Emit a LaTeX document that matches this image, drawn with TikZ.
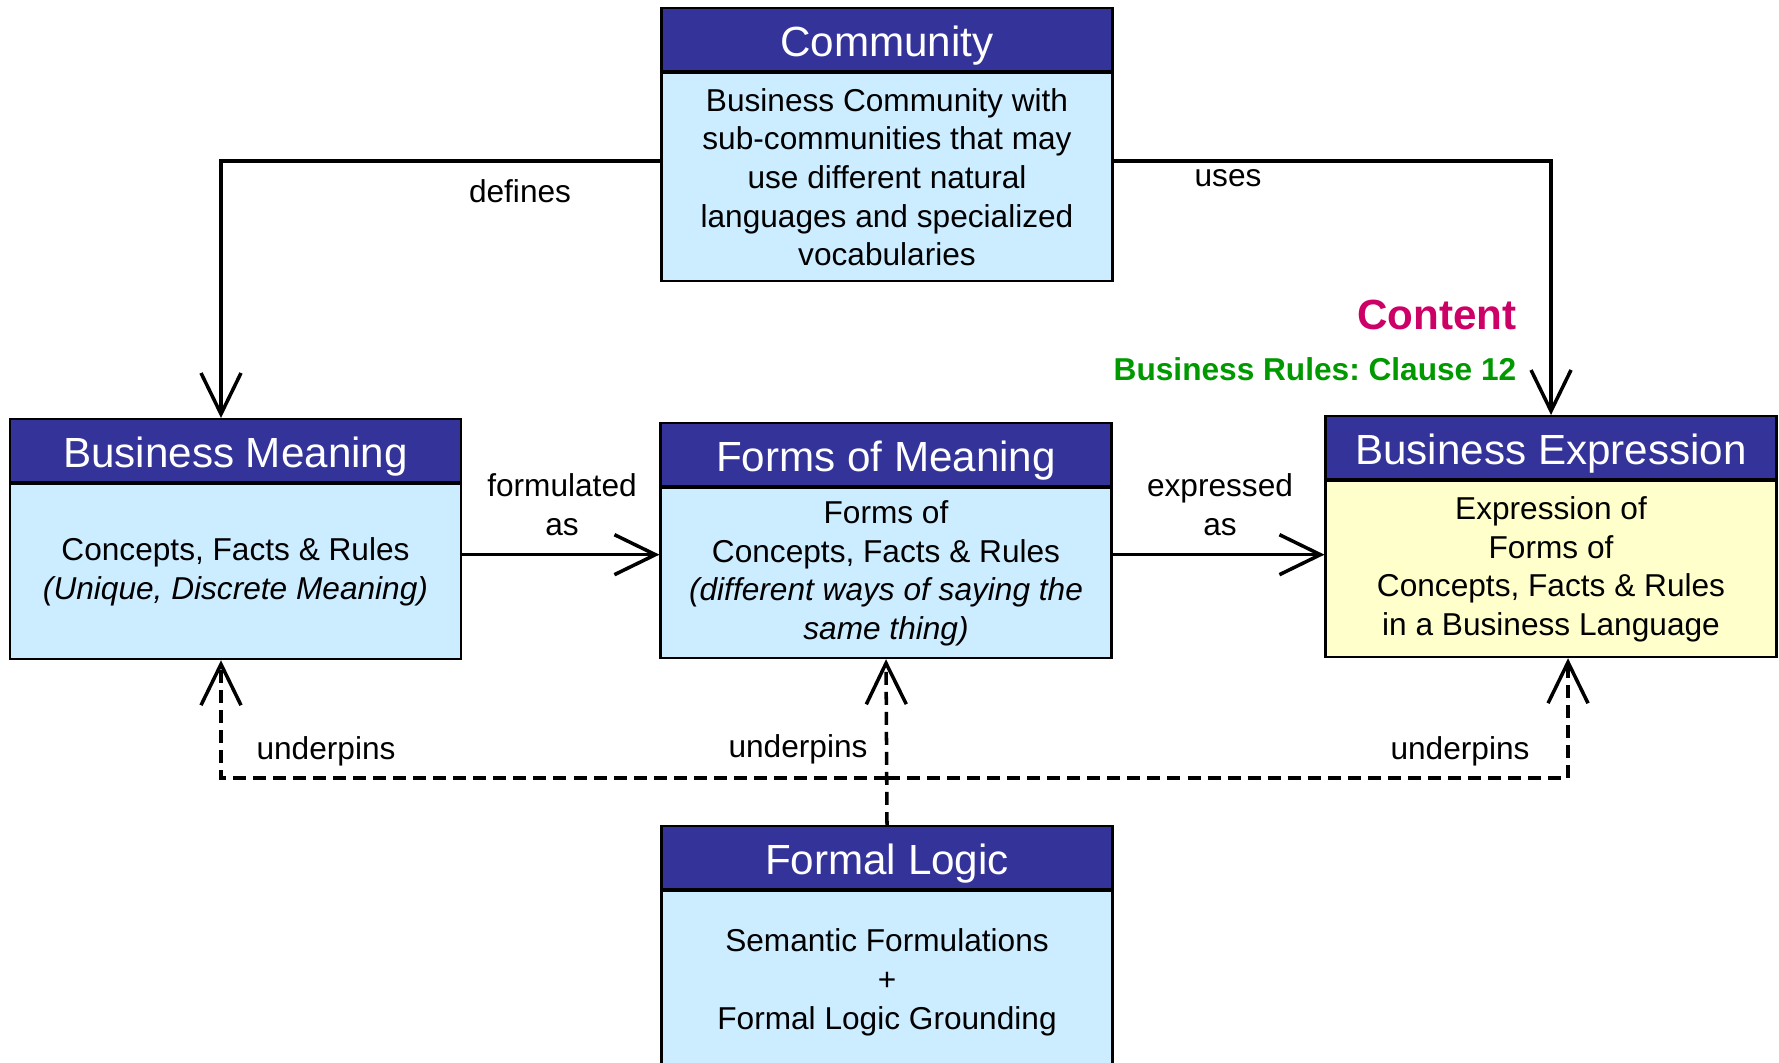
\documentclass[tikz,border=0pt]{standalone}
\usepackage{fontspec}
\setmainfont{Liberation Sans}
\usepackage{tikz}
\usetikzlibrary{arrows.meta}
\usetikzlibrary{positioning}
\definecolor{hdrblue}{HTML}{333399}
\definecolor{boxblue}{HTML}{CCECFF}
\definecolor{boxyellow}{HTML}{FFFFCC}
\definecolor{contentred}{HTML}{CC0066}
\definecolor{rulegreen}{HTML}{009900}
\tikzset{>={Straight Barb[length=4.1mm,width=4mm]}}
\frenchspacing

\begin{document}
\begin{tikzpicture}[line cap=round,
	hdr/.style={draw, line width=0.6pt, fill=hdrblue, text=white, anchor=north, inner sep=0pt,
		minimum width=4.51cm, minimum height=0.63cm, text height=9.7pt, text depth=0pt,
		font=\fontsize{12}{14}\selectfont},
	bodybox/.style={draw, line width=0.6pt, fill=boxblue, inner sep=0pt, align=center,
		minimum width=4.51cm, font=\fontsize{9}{11}\selectfont},
	lbl/.style={align=center, inner sep=0pt, font=\fontsize{9}{11}\selectfont},
	link/.style={->, line width=1pt},
	dep/.style={->, line width=1pt, line cap=butt, dash pattern=on 3.7pt off 2pt}]

	\useasboundingbox (0,0) rectangle (17.79,-10.62);


	\node [hdr] (commhead) at (8.87,-0.07) {Community};
	\node [bodybox, minimum height=2.08cm, below=0pt of commhead] (commbody)
		{Business Community with\\sub-communities that may\\use different natural\\languages and specialized\\vocabularies};

	\node [hdr] (bmhead) at (2.355,-4.18) {Business Meaning};
	\node [bodybox, minimum height=1.75cm, below=0pt of bmhead] (bmbody)
		{Concepts, Facts \& Rules\\\textit{(Unique, Discrete Meaning)}};

	\node [hdr] (fmhead) at (8.86,-4.22) {Forms of Meaning};
	\node [bodybox, minimum height=1.70cm, below=0pt of fmhead] (fmbody)
		{Forms of\\Concepts, Facts \& Rules\\\textit{(different ways of saying the}\\\textit{same thing)}};

	\node [hdr] (behead) at (15.51,-4.15) {Business Expression};
	\node [bodybox, fill=boxyellow, minimum height=1.76cm, below=0pt of behead] (bebody)
		{Expression of\\Forms of\\Concepts, Facts \& Rules\\in a Business Language};

	\node [hdr] (flhead) at (8.87,-8.25) {Formal Logic};
	\node [bodybox, minimum height=1.82cm, below=0pt of flhead] (flbody)
		{Semantic Formulations\\+\\Formal Logic Grounding};


	\draw [link] ([yshift=.16cm]commbody.west) -| ([xshift=-.145cm]bmhead.north);
	\draw [link] ([yshift=.16cm]commbody.east) -| (behead.north);
	\draw [link] ([yshift=.17cm]bmbody.east) -- ([yshift=.17cm]bmbody.east -| fmbody.west);
	\draw [link] ([yshift=.17cm]bmbody.east -| fmbody.east) -- ([yshift=.17cm]bmbody.east -| bebody.west);

	\coordinate (bus) at (8.87,-7.78);
	\draw [dep] (flhead.north) -- (fmbody.south);
	\draw [dep] (bus) -| ([xshift=-.145cm]bmbody.south);
	\draw [dep] (bus) -| ([xshift=.17cm]bebody.south);


	\node [lbl] (defines) at (5.20,-1.91) {defines};
	\node [lbl] (uses) at (12.28,-1.78) {uses};
	\node [lbl] (formulated) at (5.62,-5.05) {formulated\\as};
	\node [lbl] (expressed) at (12.20,-5.05) {expressed\\as};
	\node [lbl] (upbm) at (3.26,-7.51) {underpins};
	\node [lbl] (upfm) at (7.98,-7.49) {underpins};
	\node [lbl] (upbe) at (14.60,-7.51) {underpins};

	\node [lbl, anchor=east, text=contentred, font=\bfseries\fontsize{12}{14}\selectfont] (content) at (15.17,-3.15) {Content};
	\node [lbl, anchor=east, text=rulegreen, font=\bfseries\fontsize{9}{11}\selectfont] (clause) at (15.17,-3.69) {Business Rules: Clause 12};


\end{tikzpicture}
\end{document}
